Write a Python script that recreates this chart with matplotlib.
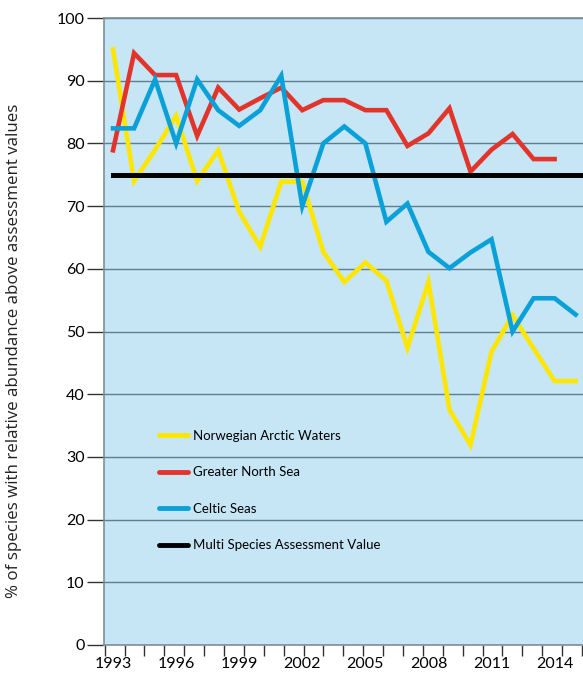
import matplotlib
matplotlib.use("Agg")
import matplotlib.pyplot as plt
import numpy as np

plt.rcParams['font.family'] = ['Lato', 'DejaVu Sans']

years = list(range(1993, 2016))
norwegian = [95.0, 74.0, 79.0, 84.4, 74.0, 78.9, 69.1, 63.5, 73.9, 73.9, 62.7, 57.9,
             61.0, 58.1, 47.4, 57.9, 37.5, 31.9, 46.8, 52.6, 47.3, 42.1, 42.1]
north_sea_years = list(range(1993, 2015))
north_sea = [78.9, 94.4, 90.9, 90.9, 81.2, 88.9, 85.4, 87.2, 88.9, 85.3, 86.9, 86.9,
             85.3, 85.3, 79.6, 81.6, 85.6, 75.5, 79.0, 81.5, 77.5, 77.5]
celtic = [82.4, 82.4, 90.2, 80.0, 90.2, 85.3, 82.8, 85.3, 90.8, 70.0, 80.0, 82.7,
          80.0, 67.5, 70.4, 62.7, 60.1, 62.6, 64.7, 50.0, 55.3, 55.3, 52.7]
assessment = [75] * len(years)

labels = ["Norwegian Arctic Waters", "Greater North Sea", "Celtic Seas",
          "Multi Species Assessment Value"]
colors = ["#ffe600", "#e2342b", "#0aa0d8", "#000000"]
year_labels = [1993, 1996, 1999, 2002, 2005, 2008, 2011, 2014]

fig = plt.figure(figsize=(5.83, 6.75), dpi=100)
ax = fig.add_axes([104/583, 30/675, 1 - 104/583, (645-18)/675])
ax.set_facecolor("#c6e6f6")

ax.set_ylim(0, 100)
ax.set_xlim(1992.57, 2015.35)
ax.set_yticks(np.arange(0, 101, 10))
ax.yaxis.grid(True, color="#5f7d8c", linewidth=1.0)
ax.set_axisbelow(True)

l1, = ax.plot(years, norwegian, color=colors[0], lw=3.3, solid_joinstyle='miter', label=labels[0])
l2, = ax.plot(north_sea_years, north_sea, color=colors[1], lw=3.3, solid_joinstyle='miter', label=labels[1])
l3, = ax.plot(years, celtic, color=colors[2], lw=3.3, solid_joinstyle='miter', label=labels[2])
l4, = ax.plot(years + [2015.35], assessment + [75], color=colors[3], lw=3.6, label=labels[3])

ax.set_xticks(year_labels)
ax.set_xticklabels([str(y) for y in year_labels], fontsize=11.5)
ax.tick_params(axis='x', length=0, pad=9)
ax.set_xticks(np.arange(1992.6, 2015.4, 0.946), minor=True)
ax.tick_params(axis='x', which='minor', length=8, width=1, color="#333333", direction='out')
ax.tick_params(axis='y', length=12, width=1, color="#333333", labelsize=11.5, pad=2)

for s in ["left", "top", "bottom"]:
    ax.spines[s].set_color("#7d8f99")
    ax.spines[s].set_linewidth(1.2)
ax.spines["right"].set_visible(False)

ax.set_ylabel("% of species with relative abundance above assessment values", fontsize=12.2,
              family=['Open Sans', 'DejaVu Sans'], color="#222222")
ax.yaxis.set_label_coords(-0.172, 0.469)

leg = ax.legend(handles=[l1, l2, l3, l4], loc='upper left', bbox_to_anchor=(0.09, 0.362),
                frameon=False, fontsize=9.5, handlelength=2.2, handletextpad=0.4,
                labelspacing=1.85)
for h in leg.get_lines():
    h.set_linewidth(3.5)
    h.set_solid_capstyle('round')

fig.savefig("out.png", dpi=100)
